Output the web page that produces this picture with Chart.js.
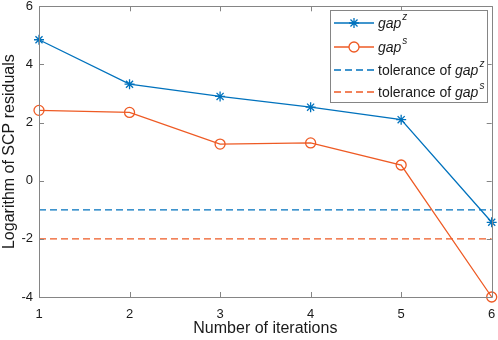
<!DOCTYPE html>
<html>
<head>
<meta charset="utf-8">
<script src="https://cdn.jsdelivr.net/npm/chart.js@4"></script>
<style>
  body { margin: 0; background: #fff; }
  #wrap { width: 498px; height: 340px; }
</style>
</head>
<body>
<div id="wrap"><canvas id="residualChart" width="498" height="340"></canvas></div>
<script>
var iterations = [1, 2, 3, 4, 5, 6];
var gapZ = [4.85, 3.32, 2.9, 2.53, 2.1, -1.43];
var gapS = [2.42, 2.35, 1.26, 1.3, 0.54, -4.0];
var tolZ = -1;
var tolS = -2;
var yTicks = [-4, -2, 0, 2, 4, 6];

var blue = "#0072BD";
var orange = "#EE5A24";
var axisGray = "#858585";
var fontFam = "'Liberation Sans', Arial, sans-serif";

function toPoints(xs, ys) {
    return xs.map(function (x, i) { return { x: x, y: ys[i] }; });
}

// box, inward ticks and the legend, drawn the matlab way
var matlabAxes = {
    id: "matlabAxes",
    afterDraw: function (chart) {
        var ctx = chart.ctx;
        var a = chart.chartArea;
        var xs = chart.scales.x, ys = chart.scales.y;
        ctx.save();
        ctx.strokeStyle = axisGray;
        ctx.lineWidth = 1;
        ctx.beginPath();
        ctx.rect(Math.round(a.left) + 0.5, Math.round(a.top) + 0.5,
            Math.round(a.right - a.left), Math.round(a.bottom - a.top));
        iterations.forEach(function (v) {
            var px = Math.round(xs.getPixelForValue(v)) + 0.5;
            ctx.moveTo(px, a.bottom); ctx.lineTo(px, a.bottom - 5);
            ctx.moveTo(px, a.top); ctx.lineTo(px, a.top + 5);
        });
        yTicks.forEach(function (v) {
            var py = Math.round(ys.getPixelForValue(v)) + 0.5;
            ctx.moveTo(a.left, py); ctx.lineTo(a.left + 5, py);
            ctx.moveTo(a.right, py); ctx.lineTo(a.right - 5, py);
        });
        ctx.stroke();

        // legend
        var lx = 330.5, ly = 10.5, lw = 157, lh = 92;
        ctx.fillStyle = "#fff";
        ctx.fillRect(lx, ly, lw, lh);
        ctx.strokeStyle = axisGray;
        ctx.strokeRect(lx, ly, lw, lh);
        var rows = [
            { color: blue, dash: [], marker: "star", pre: "", sup: "z" },
            { color: orange, dash: [], marker: "circle", pre: "", sup: "s" },
            { color: blue, dash: [7, 4], marker: null, pre: "tolerance of ", sup: "z" },
            { color: orange, dash: [7, 4], marker: null, pre: "tolerance of ", sup: "s" }
        ];
        var rowY = [23, 47, 70, 92];
        rows.forEach(function (r, i) {
            var y = rowY[i];
            ctx.strokeStyle = r.color;
            ctx.lineWidth = 1.3;
            ctx.setLineDash(r.dash);
            ctx.beginPath();
            ctx.moveTo(334, y); ctx.lineTo(374, y);
            ctx.stroke();
            ctx.setLineDash([]);
            if (r.marker) {
                ctx.fillStyle = "#fff";
                Chart.helpers.drawPoint(ctx, { pointStyle: r.marker, radius: 5, rotation: 0, borderWidth: 1.3 }, 354, y);
            }
            ctx.fillStyle = "#1a1a1a";
            ctx.textBaseline = "middle";
            ctx.textAlign = "left";
            var tx = 378;
            ctx.font = "14px " + fontFam;
            if (r.pre) {
                ctx.fillText(r.pre, tx, y + 1);
                tx += ctx.measureText(r.pre).width;
            }
            ctx.font = "italic 14px " + fontFam;
            ctx.fillText("gap", tx, y + 1);
            tx += ctx.measureText("gap").width + 1;
            ctx.font = "italic 10px " + fontFam;
            ctx.fillText(r.sup, tx, y - 6);
        });
        ctx.restore();
    }
};

var ctx = document.getElementById("residualChart").getContext("2d");
var residualChart = new Chart(ctx, {
    type: "line",
    data: {
        datasets: [{
            label: "gap z",
            data: toPoints(iterations, gapZ),
            borderColor: blue,
            backgroundColor: blue,
            borderWidth: 1.3,
            pointStyle: "star",
            pointRadius: 5,
            pointBorderWidth: 1.3,
            clip: false
        }, {
            label: "gap s",
            data: toPoints(iterations, gapS),
            borderColor: orange,
            backgroundColor: "rgba(0,0,0,0)",
            borderWidth: 1.3,
            pointStyle: "circle",
            pointRadius: 5,
            pointBorderWidth: 1.3,
            clip: false
        }, {
            label: "tolerance of gap z",
            data: toPoints([1, 6], [tolZ, tolZ]),
            borderColor: blue,
            borderWidth: 1.3,
            borderDash: [7, 4],
            pointRadius: 0
        }, {
            label: "tolerance of gap s",
            data: toPoints([1, 6], [tolS, tolS]),
            borderColor: orange,
            borderWidth: 1.3,
            borderDash: [7, 4],
            pointRadius: 0
        }]
    },
    options: {
        responsive: false,
        animation: false,
        layout: { padding: { top: 5, right: 6, left: 0, bottom: 0 } },
        plugins: {
            legend: { display: false },
            tooltip: { enabled: false }
        },
        scales: {
            x: {
                type: "linear",
                min: 1,
                max: 6,
                afterFit: function (s) {
                    s.height = 43;
                    s.paddingLeft = 0;
                    s.paddingRight = 0;
                },
                afterBuildTicks: function (s) {
                    s.ticks = iterations.map(function (v) { return { value: v }; });
                },
                grid: { display: false, drawTicks: false },
                border: { display: false },
                ticks: {
                    padding: 10,
                    color: "#1a1a1a",
                    font: { family: fontFam, size: 13 }
                },
                title: {
                    display: true,
                    text: "Number of iterations",
                    color: "#1a1a1a",
                    padding: { top: 0, bottom: 2 },
                    font: { family: fontFam, size: 16 }
                }
            },
            y: {
                min: -4,
                max: 6,
                afterFit: function (s) {
                    s.width = 39;
                    s.paddingTop = 0;
                    s.paddingBottom = 0;
                },
                afterBuildTicks: function (s) {
                    s.ticks = yTicks.map(function (v) { return { value: v }; });
                },
                grid: { display: false, drawTicks: false },
                border: { display: false },
                ticks: {
                    padding: 6,
                    color: "#1a1a1a",
                    font: { family: fontFam, size: 13 }
                },
                title: {
                    display: true,
                    text: "Logarithm of SCP residuals",
                    color: "#1a1a1a",
                    padding: { top: 0, bottom: 0 },
                    font: { family: fontFam, size: 16 }
                }
            }
        }
    },
    plugins: [matlabAxes]
});
</script>
</body>
</html>
